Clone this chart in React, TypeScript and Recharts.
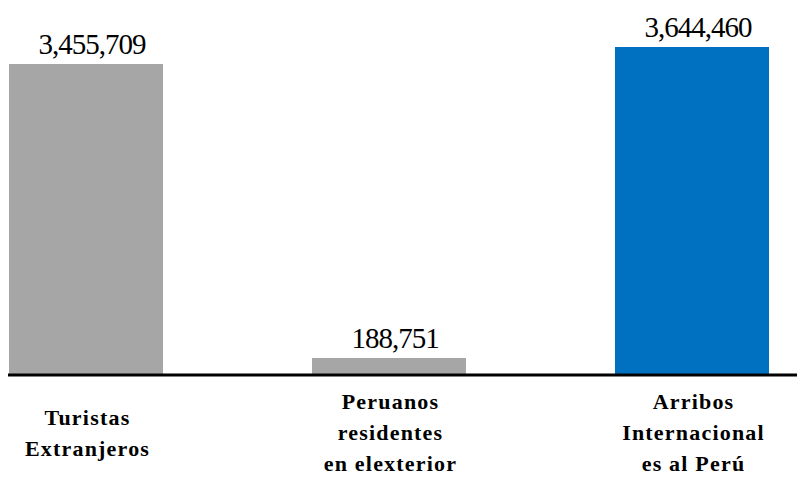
import React from 'react';
import { BarChart, Bar, XAxis, YAxis, Cell, LabelList } from 'recharts';

const categories = ['Turistas\nExtranjeros', 'Peruanos\nresidentes\nen elexterior', 'Arribos\nInternacional\nes al Perú'];
const values = [3455709, 188751, 3644460];
const colors = ['#A6A6A6', '#A6A6A6', '#0070C0'];

const data = categories.map((name, i) => ({ name, value: values[i] }));

const serif = '"Liberation Serif", "Times New Roman", serif';

const CategoryTick = (props: any) => {
  const { x, y, payload } = props;
  const lines: string[] = String(payload.value).split('\n');
  const mid = y + 65;
  return (
    <g>
      {lines.map((line, i) => (
        <text
          key={i}
          x={x + 2}
          y={mid + (i - (lines.length - 1) / 2) * 31}
          textAnchor="middle"
          fontFamily={serif}
          fontWeight="bold"
          fontSize={22}
          letterSpacing={1.2}
          fill="#000"
        >
          {line}
        </text>
      ))}
    </g>
  );
};

const ValueLabel = (props: any) => {
  const { x, y, width, value } = props;
  return (
    <text
      x={x + width / 2 + 6}
      y={y - 10}
      textAnchor="middle"
      fontFamily={serif}
      fontSize={29}
      letterSpacing={-1}
      fill="#000"
    >
      {Number(value).toLocaleString('en-US')}
    </text>
  );
};

const App = () => (
  <div style={{ position: 'relative', margin: '-8px 0 0 -8px', width: 805, height: 477, overflow: 'hidden', background: '#fff' }}>
    <div style={{ position: 'absolute', left: -66, top: 0 }}>
      <BarChart width={909} height={477} data={data} margin={{ top: 47, right: 0, bottom: 0, left: 0 }} barCategoryGap={0}>
        <YAxis hide domain={[0, 'dataMax']} />
        <Bar dataKey="value" barSize={154} isAnimationActive={false}>
          {data.map((d, i) => (
            <Cell key={d.name} fill={colors[i]} />
          ))}
          <LabelList dataKey="value" content={<ValueLabel />} />
        </Bar>
        <XAxis
          dataKey="name"
          height={102}
          axisLine={{ stroke: '#000', strokeWidth: 3 }}
          tickLine={false}
          tickSize={0}
          tickMargin={0}
          interval={0}
          tick={<CategoryTick />}
        />
      </BarChart>
    </div>
  </div>
);

export default App;
